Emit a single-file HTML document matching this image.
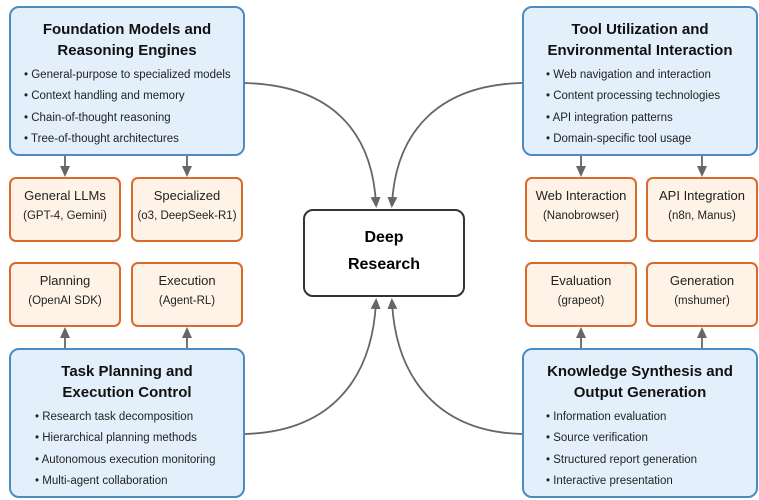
<!DOCTYPE html>
<html><head><meta charset="utf-8"><style>
body{margin:0;width:759px;height:500px;background:#fff;font-family:"Liberation Sans",Arial,sans-serif;position:relative;overflow:hidden}
.m{position:absolute;width:236px;height:150px;background:#e3f0fc;border:2px solid #4a8cc2;border-radius:10px;box-sizing:border-box}
.m h{display:block;text-align:center;font-weight:bold;font-size:15px;line-height:20.5px;margin-top:12px;color:#111}
.m ul{margin:4px 0 0 0;padding:0 0 0 13px;list-style:none;font-size:11.5px;color:#222}
.m li{line-height:21.3px}
.m li:before{content:"• "}
.c{position:absolute;width:112px;height:65px;background:#fef3e6;border:2px solid #d86a2b;border-radius:7px;box-sizing:border-box;text-align:center;color:#222}
.c .a{font-size:13px;margin-top:9px}
.c .b{font-size:11.5px;margin-top:7px}
.ctr{position:absolute;left:303px;top:209px;width:162px;height:88px;border:2px solid #333;border-radius:10px;box-sizing:border-box;text-align:center;font-weight:bold;font-size:16px;line-height:27px;padding-top:13px;background:#fff}
svg{position:absolute;left:0;top:0}
</style></head><body>
<svg width="759" height="500">
<defs><marker id="ar" markerWidth="12" markerHeight="12" refX="7" refY="5" orient="auto" markerUnits="userSpaceOnUse"><path d="M0,0 L11,5 L0,10z" fill="#666"/></marker></defs>
<g stroke="#666" stroke-width="1.8" fill="none" marker-end="url(#ar)">
<path d="M244,83 C330,85 372,130 376,204"/>
<path d="M522,83 C440,85 396,130 392,204"/>
<path d="M244,434 C330,432 372,380 376,302"/>
<path d="M522,434 C440,432 396,380 392,302"/>
<path d="M65,156 L65,173"/><path d="M187,156 L187,173"/>
<path d="M581,156 L581,173"/><path d="M702,156 L702,173"/>
<path d="M65,348 L65,331"/><path d="M187,348 L187,331"/>
<path d="M581,348 L581,331"/><path d="M702,348 L702,331"/>
</g></svg>
<div class="m" style="left:9px;top:6px"><h>Foundation Models and<br>Reasoning Engines</h><ul><li>General-purpose to specialized models</li><li>Context handling and memory</li><li>Chain-of-thought reasoning</li><li>Tree-of-thought architectures</li></ul></div>
<div class="m" style="left:522px;top:6px"><h>Tool Utilization and<br>Environmental Interaction</h><ul style="padding-left:22px"><li>Web navigation and interaction</li><li>Content processing technologies</li><li>API integration patterns</li><li>Domain-specific tool usage</li></ul></div>
<div class="m" style="left:9px;top:348px"><h>Task Planning and<br>Execution Control</h><ul style="padding-left:24px"><li>Research task decomposition</li><li>Hierarchical planning methods</li><li>Autonomous execution monitoring</li><li>Multi-agent collaboration</li></ul></div>
<div class="m" style="left:522px;top:348px"><h>Knowledge Synthesis and<br>Output Generation</h><ul style="padding-left:22px"><li>Information evaluation</li><li>Source verification</li><li>Structured report generation</li><li>Interactive presentation</li></ul></div>
<div class="c" style="left:9px;top:177px"><div class="a">General LLMs</div><div class="b">(GPT-4, Gemini)</div></div>
<div class="c" style="left:131px;top:177px"><div class="a">Specialized</div><div class="b">(o3, DeepSeek-R1)</div></div>
<div class="c" style="left:525px;top:177px"><div class="a">Web Interaction</div><div class="b">(Nanobrowser)</div></div>
<div class="c" style="left:646px;top:177px"><div class="a">API Integration</div><div class="b">(n8n, Manus)</div></div>
<div class="c" style="left:9px;top:262px"><div class="a">Planning</div><div class="b">(OpenAI SDK)</div></div>
<div class="c" style="left:131px;top:262px"><div class="a">Execution</div><div class="b">(Agent-RL)</div></div>
<div class="c" style="left:525px;top:262px"><div class="a">Evaluation</div><div class="b">(grapeot)</div></div>
<div class="c" style="left:646px;top:262px"><div class="a">Generation</div><div class="b">(mshumer)</div></div>
<div class="ctr">Deep<br>Research</div>
</body></html>
